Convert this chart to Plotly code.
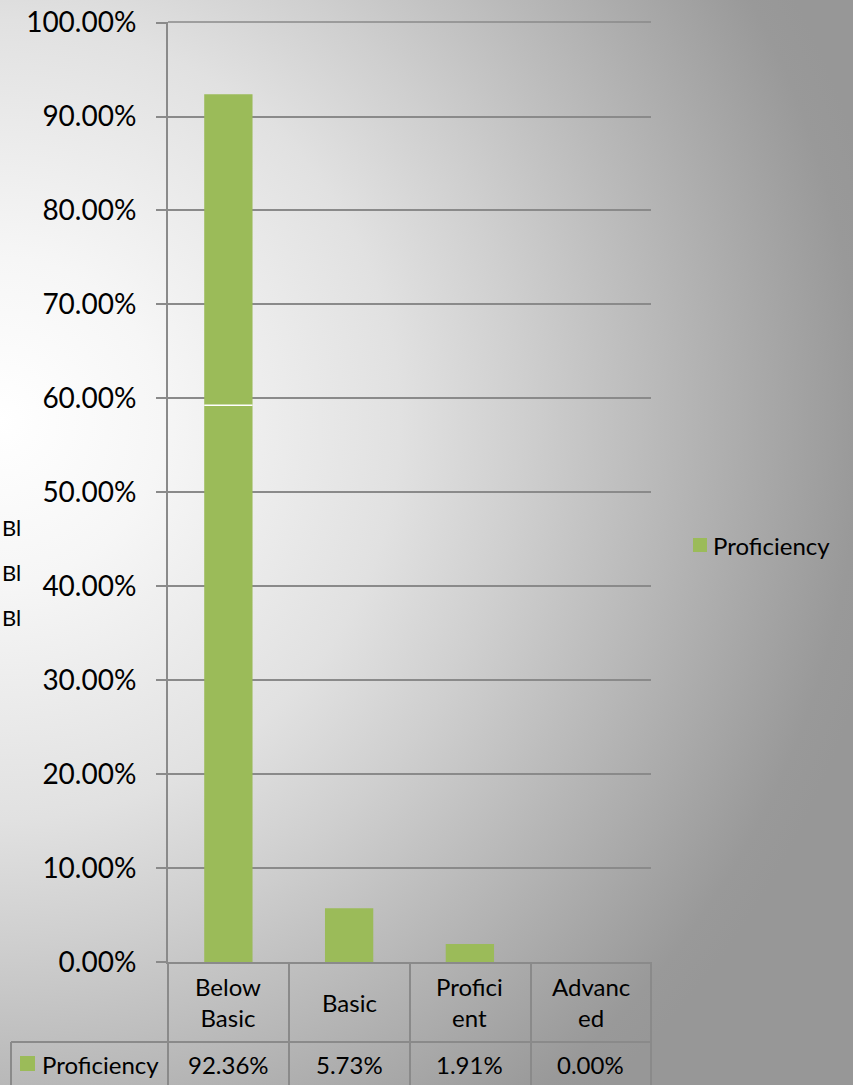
import base64
import plotly.graph_objects as go

# ---- data ----
categories = ["Below Basic", "Basic", "Proficient", "Advanced"]
category_labels = ["Below<br>Basic", "Basic", "Profici<br>ent", "Advanc<br>ed"]
series_name = "Proficiency"
values = [0.9236, 0.0573, 0.0191, 0.0000]
value_labels = ["92.36%", "5.73%", "1.91%", "0.00%"]
side_labels = ["Bl", "Bl", "Bl"]

W, H = 853, 1085
L, R, T, B = 168, 651, 22, 962
PW, PH = R - L, B - T

def px(x):
    return (x - L) / PW

def py(y):
    return (B - y) / PH

GREEN = "#9BBB59"
LINE = "#8a8a8a"
FONT = "Lato"

svg = f'''<svg xmlns="http://www.w3.org/2000/svg" width="{W}" height="{H}">
<defs><radialGradient id="g" gradientUnits="userSpaceOnUse" cx="0" cy="420" r="900">
<stop offset="0" stop-color="#ffffff"/>
<stop offset="0.18" stop-color="#f6f6f6"/>
<stop offset="0.444" stop-color="#e1e1e1"/>
<stop offset="0.58" stop-color="#cfcfcf"/>
<stop offset="0.955" stop-color="#999999"/>
<stop offset="1" stop-color="#979797"/>
</radialGradient></defs>
<rect width="{W}" height="{H}" fill="url(#g)"/></svg>'''
bg = "data:image/svg+xml;base64," + base64.b64encode(svg.encode()).decode()

fig = go.Figure()
fig.add_trace(go.Bar(x=categories, y=values, name=series_name,
                     marker=dict(color=GREEN, line=dict(width=0)),
                     showlegend=False, hoverinfo="skip"))

shapes = []
annotations = []

# top gridline (at the upper edge of the plot area)
shapes.append(dict(type="line", xref="paper", yref="paper",
                   x0=0, x1=1, y0=1, y1=1,
                   line=dict(color=LINE, width=1.5)))

# table lines
for xp in [168, 289, 410, 531, 651]:
    shapes.append(dict(type="line", xref="paper", yref="paper",
                       x0=px(xp), x1=px(xp), y0=py(962), y1=py(1100),
                       line=dict(color=LINE, width=2)))
shapes.append(dict(type="line", xref="paper", yref="paper",
                   x0=px(11), x1=px(651), y0=py(1042), y1=py(1042),
                   line=dict(color=LINE, width=2)))
shapes.append(dict(type="line", xref="paper", yref="paper",
                   x0=px(11), x1=px(11), y0=py(1042), y1=py(1100),
                   line=dict(color=LINE, width=2)))

# thin white line across first bar
shapes.append(dict(type="line", xref="x", yref="y", x0=-0.2, x1=0.2,
                   y0=0.5926, y1=0.5926, line=dict(color="white", width=1.5)))

for cat, lab, vl in zip(categories, category_labels, value_labels):
    annotations.append(dict(x=cat, xref="x", y=py(1002), yref="paper",
                            text=lab, showarrow=False,
                            font=dict(family=FONT, size=24, color="#000"),
                            xanchor="center", yanchor="middle"))
    annotations.append(dict(x=cat, xref="x", y=py(1064), yref="paper",
                            text=vl, showarrow=False,
                            font=dict(family=FONT, size=24, color="#000"),
                            xanchor="center", yanchor="middle"))

# table legend key
shapes.append(dict(type="rect", xref="paper", yref="paper",
                   x0=px(20), x1=px(35), y0=py(1071), y1=py(1056),
                   fillcolor=GREEN, line=dict(width=0)))
annotations.append(dict(x=px(40), xref="paper", y=py(1064), yref="paper",
                        text=series_name, showarrow=False,
                        font=dict(family=FONT, size=24, color="#000"),
                        xanchor="left", yanchor="middle"))

# right legend
shapes.append(dict(type="rect", xref="paper", yref="paper",
                   x0=px(693), x1=px(707), y0=py(552), y1=py(538),
                   fillcolor=GREEN, line=dict(width=0)))
annotations.append(dict(x=px(711), xref="paper", y=py(545), yref="paper",
                        text=series_name, showarrow=False,
                        font=dict(family=FONT, size=24, color="#000"),
                        xanchor="left", yanchor="middle"))

# partly hidden labels at the left edge
for yp, t in zip([527, 573, 617], side_labels):
    annotations.append(dict(x=px(0), xref="paper", y=py(yp), yref="paper",
                            text=t, showarrow=False,
                            font=dict(family=FONT, size=22, color="#000"),
                            xanchor="left", yanchor="middle"))

fig.update_layout(
    width=W, height=H,
    margin=dict(l=L, r=W - R, t=T, b=H - B, pad=0, autoexpand=False),
    paper_bgcolor="#d0d0d0",
    plot_bgcolor="rgba(0,0,0,0)",
    bargap=0.6,
    font=dict(family=FONT, color="#000"),
    shapes=shapes,
    annotations=annotations,
    images=[dict(source=bg, xref="paper", yref="paper",
                 x=px(0), y=py(0), sizex=W / PW, sizey=H / PH,
                 xanchor="left", yanchor="top", sizing="stretch",
                 layer="below")],
)
fig.update_xaxes(showticklabels=False, showgrid=False, showline=True,
                 linecolor=LINE, linewidth=2, ticks="", zeroline=False,
                 automargin=False)
fig.update_yaxes(range=[0, 1.0006], dtick=0.1, tick0=0, tickformat=".2%",
                 showgrid=True, gridcolor=LINE, gridwidth=1.5,
                 showline=True, linecolor=LINE, linewidth=2,
                 ticks="outside", ticklen=10, tickcolor=LINE, tickwidth=1.5,
                 ticklabelstandoff=14, zeroline=False, automargin=False,
                 tickfont=dict(family=FONT, size=28, color="#000"))

fig.write_html("out.html",
               config={"displayModeBar": False},
               post_script="document.body.style.margin='0';"
                           "document.body.style.overflow='hidden';")
